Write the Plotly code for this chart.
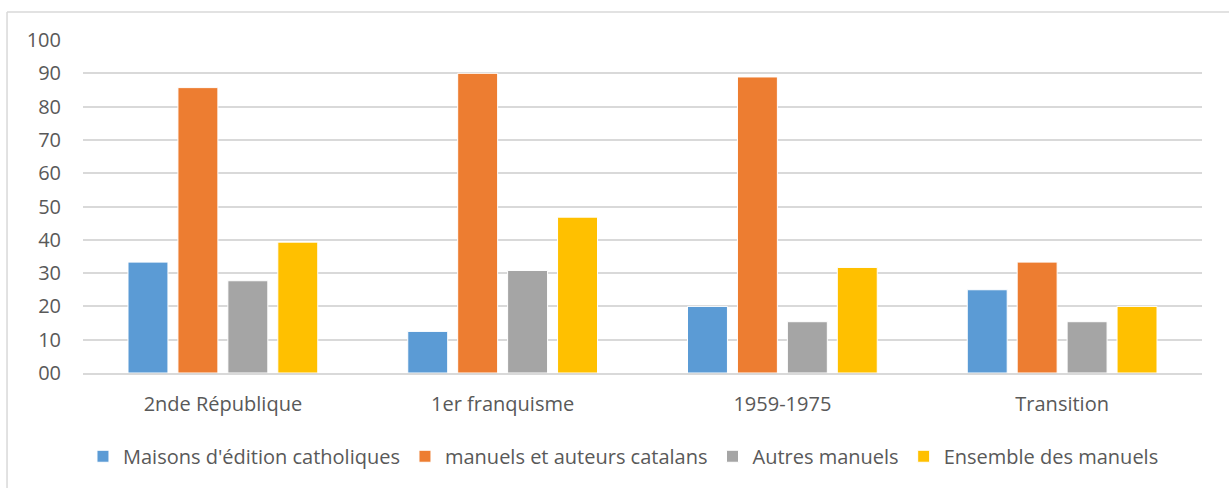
import plotly.graph_objects as go

periods = ['2nde République', '1er franquisme', '1959-1975', 'Transition']
catholiques = [33.3, 12.5, 20.0, 25.0]
catalans = [85.7, 90.0, 88.9, 33.3]
autres = [27.7, 30.8, 15.4, 15.4]
ensemble = [39.3, 46.8, 31.7, 20.0]

y_ticks = [0, 10, 20, 30, 40, 50, 60, 70, 80, 90, 100]
y_labels = ['00', '10', '20', '30', '40', '50', '60', '70', '80', '90', '100']

series = [
    ("Maisons d'édition catholiques", catholiques, '#5B9BD5'),
    ('manuels et auteurs catalans', catalans, '#ED7D31'),
    ('Autres manuels', autres, '#A5A5A5'),
    ('Ensemble des manuels', ensemble, '#FFC000'),
]

fig = go.Figure()
for name, vals, col in series:
    fig.add_trace(go.Bar(x=periods, y=vals, name=name,
                         marker=dict(color=col, line=dict(color='white', width=1))))

font = dict(family='Open Sans, Roboto, sans-serif', size=20, color='#595959')

fig.update_layout(
    width=1229, height=488,
    margin=dict(l=83, r=27, t=40, b=115),
    paper_bgcolor='white', plot_bgcolor='white',
    font=font,
    barmode='group', bargap=0.286, bargroupgap=0.2,
    showlegend=True,
    legend=dict(orientation='h', x=0.483, xanchor='center', y=-0.25, yanchor='middle',
                font=font, itemwidth=30, traceorder='normal'),
    xaxis=dict(showgrid=False, showline=True, linecolor='#d9d9d9', linewidth=1.5,
               ticks='', ticklabelstandoff=12),
    yaxis=dict(range=[0, 100], tickvals=y_ticks, ticktext=y_labels,
               showgrid=True, gridcolor='#d9d9d9', gridwidth=1.5,
               zeroline=False, showline=False, ticks='', ticklabelstandoff=21),
    shapes=[
        # outer chart border (top and left visible)
        dict(type='line', xref='paper', yref='paper', x0=-0.0679, x1=1.05, y0=1.084, y1=1.084,
             line=dict(color='#d9d9d9', width=1.5)),
        dict(type='line', xref='paper', yref='paper', x0=-0.0679, x1=-0.0679, y0=1.084, y1=-0.4,
             line=dict(color='#d9d9d9', width=1.5)),
    ],
)

# drop the default page margin so the figure sits at the window's corner
fig.write_html("out.html", config={'displayModeBar': False},
               post_script="document.body.style.margin='0px';")
